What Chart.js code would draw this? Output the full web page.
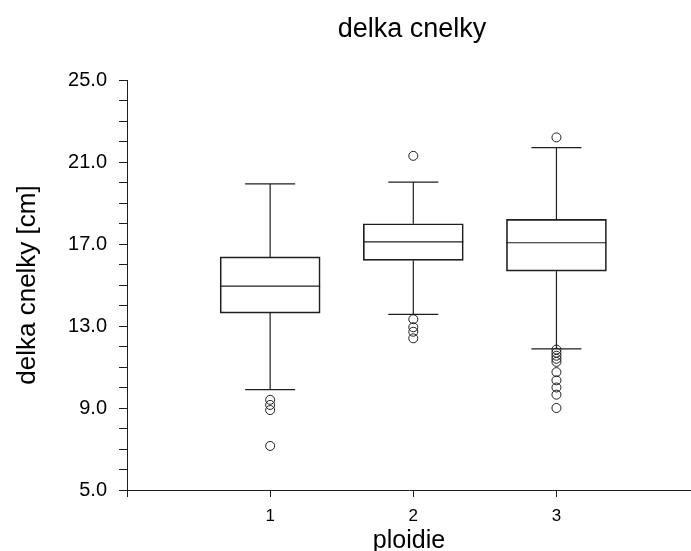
<!DOCTYPE html>
<html>
<head>
<meta charset="utf-8">
<script src="https://cdn.jsdelivr.net/npm/chart.js@4"></script>
<style>
  html, body { margin: 0; padding: 0; background: #fff; overflow: hidden; }
  #wrap { width: 691px; height: 551px; }
</style>
</head>
<body>
<div id="wrap"><canvas id="boxChart"></canvas></div>
<script>
// values
const categories = [1, 2, 3];
const whiskerLow = [9.9, 13.57, 11.88];
const quart1 = [13.63, 16.2, 15.68];
const medians = [14.95, 17.1, 17.06];
const quart3 = [16.37, 17.99, 18.2];
const whiskerHigh = [19.93, 20.02, 21.7];
const outliers1 = [9.4, 9.15, 8.9, 7.15];
const outliers2 = [21.3, 13.33, 12.94, 12.72, 12.4];
const outliers3 = [22.2, 11.85, 11.7, 11.55, 11.4, 11.25, 10.75, 10.35, 10.0, 9.65, 9.0];
const xTicks = [0, 1, 2, 3];

const FONT = '"Liberation Sans", Arial, sans-serif';
const INK = '#1e1e1e';

const outlierPoints = [];
[outliers1, outliers2, outliers3].forEach(function (list, i) {
    list.forEach(function (v) { outlierPoints.push({ x: categories[i], y: v }); });
});

// whiskers, caps and median lines, placed with the chart's scales
const whiskerPlugin = {
    id: 'whiskers',
    afterDatasetsDraw(chart) {
        const xs = chart.scales.x, ys = chart.scales.y, ctx = chart.ctx;
        ctx.save();
        ctx.strokeStyle = INK;
        ctx.lineWidth = 1.2;
        const line = function (x1, y1, x2, y2) {
            ctx.beginPath(); ctx.moveTo(x1, y1); ctx.lineTo(x2, y2); ctx.stroke();
        };
        categories.forEach(function (c, i) {
            const px = xs.getPixelForValue(c);
            line(px, ys.getPixelForValue(quart3[i]), px, ys.getPixelForValue(whiskerHigh[i]));
            line(px, ys.getPixelForValue(quart1[i]), px, ys.getPixelForValue(whiskerLow[i]));
            line(px - 25, ys.getPixelForValue(whiskerHigh[i]), px + 25, ys.getPixelForValue(whiskerHigh[i]));
            line(px - 25, ys.getPixelForValue(whiskerLow[i]), px + 25, ys.getPixelForValue(whiskerLow[i]));
            line(px - 50, ys.getPixelForValue(medians[i]), px + 50, ys.getPixelForValue(medians[i]));
        });
        ctx.restore();
    }
};

const titlePlugin = {
    id: 'topTitle',
    afterDraw(chart) {
        const ctx = chart.ctx;
        ctx.save();
        ctx.fillStyle = '#000';
        ctx.font = '27px ' + FONT;
        ctx.textAlign = 'center';
        ctx.textBaseline = 'alphabetic';
        ctx.fillText('delka cnelky', 412, 37);
        ctx.restore();
    }
};

new Chart(document.getElementById('boxChart'), {
    type: 'bar',
    data: {
        datasets: [{
            type: 'bar',
            data: categories.map(function (c, i) { return { x: c, y: [quart1[i], quart3[i]] }; }),
            backgroundColor: 'rgba(255,255,255,0)',
            borderColor: INK,
            borderWidth: 1,
            borderSkipped: false,
            barThickness: 100
        }, {
            type: 'scatter',
            data: outlierPoints,
            pointStyle: 'circle',
            pointRadius: 4.5,
            backgroundColor: 'rgba(255,255,255,0)',
            borderColor: INK,
            borderWidth: 1,
            clip: false
        }]
    },
    options: {
        responsive: true,
        maintainAspectRatio: false,
        animation: false,
        layout: { autoPadding: false, padding: { top: 80, right: 0, left: 0, bottom: 0 } },
        scales: {
            x: {
                type: 'linear',
                min: 0,
                max: 3.94,
                offset: false,
                afterBuildTicks: function (scale) {
                    scale.ticks = xTicks.map(function (v) { return { value: v }; });
                },
                afterFit: function (scale) {
                    scale.height = 61;
                    scale.paddingLeft = 0;
                    scale.paddingRight = 0;
                },
                ticks: {
                    color: '#000',
                    font: { family: FONT, size: 17 },
                    padding: 9,
                    callback: function (v) { return v === 0 ? '' : String(v); }
                },
                grid: { drawOnChartArea: false, offset: false, tickLength: 7, color: INK },
                border: { display: true, color: INK, width: 1 },
                title: {
                    display: true,
                    text: 'ploidie',
                    color: '#000',
                    font: { family: FONT, size: 25 },
                    padding: { top: 0, bottom: -5 }
                }
            },
            y: {
                type: 'linear',
                min: 5,
                max: 25,
                afterFit: function (scale) {
                    scale.width = 127;
                    scale.paddingLeft = 0;
                    scale.paddingRight = 0;
                },
                ticks: {
                    stepSize: 1,
                    autoSkip: false,
                    color: '#000',
                    font: { family: FONT, size: 20 },
                    padding: 12,
                    callback: function (v) { return (v - 5) % 4 === 0 ? v.toFixed(1) : ''; }
                },
                grid: { drawOnChartArea: false, tickLength: 8, color: INK },
                border: { display: true, color: INK, width: 1 },
                title: {
                    display: true,
                    text: 'delka cnelky [cm]',
                    color: '#000',
                    font: { family: FONT, size: 26 },
                    padding: { top: 12, bottom: 0 }
                }
            }
        },
        plugins: {
            legend: { display: false },
            tooltip: { enabled: false },
            title: { display: false }
        }
    },
    plugins: [whiskerPlugin, titlePlugin]
});
</script>
</body>
</html>
